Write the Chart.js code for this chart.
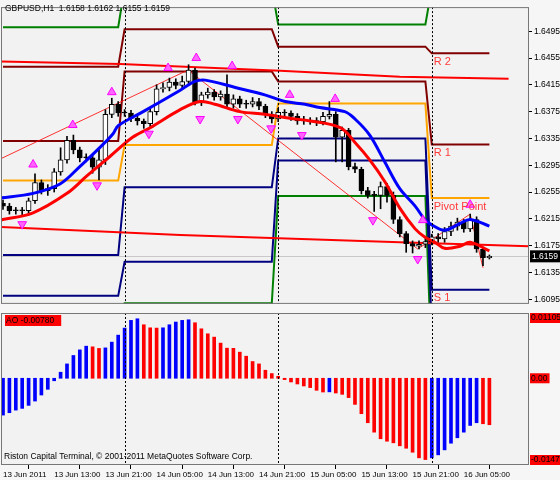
<!DOCTYPE html>
<html>
<head>
<meta charset="utf-8">
<script src="https://cdn.jsdelivr.net/npm/chart.js@4.4.1/dist/chart.umd.min.js"></script>
<style>
  body { margin: 0; background: #f6f6f6; }
  #wrap { position: relative; width: 560px; height: 480px; }
  canvas { position: absolute; left: 0; }
</style>
</head>
<body>
<div id="wrap">
  <canvas id="price" width="560" height="311" style="top:0"></canvas>
  <canvas id="ao" width="560" height="169" style="top:311px"></canvas>
</div>
<script>
// hourly bars, 13 Jun 2011 05:00 .. 16 Jun 2011 09:00
const closes = [1.6234,1.6227,1.6227,1.6227,1.6242,1.6269,1.6257,1.6260,1.6285,1.6303,
  1.6332,1.6318,1.6306,1.6306,1.6292,1.6303,1.6371,1.6386,1.6373,1.6373,
  1.6365,1.6361,1.6357,1.6375,1.6409,1.6411,1.6419,1.6414,1.6420,1.6437,
  1.6390,1.6400,1.6404,1.6397,1.6401,1.6386,1.6394,1.6386,1.6386,1.6390,
  1.6383,1.6371,1.6364,1.6374,1.6373,1.6368,1.6361,1.6362,1.6361,1.6360,
  1.6368,1.6371,1.6337,1.6347,1.6293,1.6289,1.6257,1.6250,1.6250,1.6263,
  1.6250,1.6214,1.6193,1.6178,1.6174,1.6177,1.6181,1.6188,1.6185,1.6196,
  1.6204,1.6210,1.6200,1.6214,1.6170,1.6157,1.6159];
const firstOpen = 1.6238;
const highs = [1.6243,1.6238,1.6232,1.6232,1.6246,1.6282,1.6273,1.6266,1.6290,1.6321,
  1.6338,1.6340,1.6322,1.6312,1.6310,1.6318,1.6378,1.6395,1.6390,1.6378,
  1.6377,1.6368,1.6364,1.6380,1.6415,1.6418,1.6425,1.6424,1.6428,1.6445,
  1.6440,1.6404,1.6410,1.6408,1.6406,1.6430,1.6400,1.6398,1.6392,1.6396,
  1.6395,1.6386,1.6375,1.6380,1.6378,1.6376,1.6372,1.6368,1.6366,1.6366,
  1.6374,1.6390,1.6375,1.6352,1.6350,1.6298,1.6292,1.6262,1.6256,1.6270,
  1.6268,1.6255,1.6218,1.6196,1.6182,1.6182,1.6186,1.6192,1.6193,1.6202,
  1.6210,1.6216,1.6214,1.6222,1.6218,1.6172,1.6161];
const lows = [1.6229,1.6222,1.6222,1.6221,1.6222,1.6238,1.6252,1.6250,1.6255,1.6280,
  1.6298,1.6312,1.6300,1.6300,1.6283,1.6273,1.6296,1.6366,1.6368,1.6368,
  1.6360,1.6355,1.6350,1.6352,1.6370,1.6404,1.6406,1.6409,1.6408,1.6415,
  1.6385,1.6384,1.6395,1.6392,1.6392,1.6381,1.6380,1.6381,1.6380,1.6382,
  1.6378,1.6366,1.6358,1.6360,1.6368,1.6362,1.6356,1.6356,1.6356,1.6354,
  1.6355,1.6364,1.6300,1.6300,1.6288,1.6284,1.6252,1.6246,1.6226,1.6230,
  1.6240,1.6208,1.6188,1.6165,1.6164,1.6170,1.6172,1.6176,1.6180,1.6180,
  1.6190,1.6198,1.6195,1.6196,1.6165,1.6145,1.6155];

// moving averages, read at sparse bars
const blueMaX = [-0.5,4.7,8.9,12,15.2,17.2,18,21.9,27.7,30,31.6,36.3,40.9,44.1,47.2,49.5,53.4,55,57.3,59.7,62,64.4,65.9,67,69,71.4,73,76];
const blueMaY = [1.6246,1.6253,1.6267,1.6293,1.6322,1.6342,1.6354,1.6375,1.6407,1.6420,1.6422,1.6411,1.6400,1.6390,1.6386,1.6381,1.6375,1.6364,1.6340,1.6299,1.6260,1.6234,1.6214,1.6206,1.6198,1.6208,1.6214,1.6204];
const redMaX = [-0.5,4.7,10,13.1,16.7,20.3,23,27.7,30.8,33.1,37,40.9,44.8,48,52.7,55,57.3,59.7,62,64.4,65.9,67.5,69,71.4,73,76];
const redMaY = [1.6213,1.6224,1.6253,1.6279,1.6308,1.6337,1.6351,1.6378,1.6390,1.6386,1.6375,1.6371,1.6365,1.6361,1.6351,1.6329,1.6303,1.6270,1.6231,1.6200,1.6188,1.6180,1.6171,1.6174,1.6180,1.6167];

// slow red lines
const slowAX = [-0.5,18.3,43.3,62,79];
const slowAY = [1.6450,1.6446,1.6436,1.6427,1.6424];
const slowBX = [-0.5,27.7,62,82.2];
const slowBY = [1.6203,1.6191,1.6180,1.6174];

// zigzag
const zigX = [-0.5,28.9,64.8,73,75];
const zigY = [1.6304,1.6437,1.6170,1.6222,1.6142];

// fractals
const fracUpX = [4.7,10.9,17,25.8,30.2,35.8,44.8,51.9,65.6,73];
const fracUpY = [1.6296,1.6355,1.6404,1.6440,1.6455,1.6443,1.6400,1.6394,1.6213,1.6236];
const fracDnX = [3,14.7,22.8,30.8,36.7,41.9,46.7,57.8,64.8];
const fracDnY = [1.6207,1.6265,1.6342,1.6364,1.6364,1.6350,1.6340,1.6213,1.6155];

// daily pivots (day start / end bars)
const dayStart = [0,19,43,67];
const dayEnd = [18,42,66,76];
const pivR3 = [1.6501,1.6560,1.6505,1.6560];
const pivR2 = [1.6442,1.6498,1.6472,1.6462];
const pivR1 = [1.6331,1.6435,1.6420,1.6326];
const pivPP = [1.6272,1.6325,1.6387,1.6246];
const pivS1 = [1.6161,1.6262,1.6335,1.6109];
const pivS2 = [1.6100,1.6151,1.6302,1.6050];
const pivS3 = [1.6040,1.6089,1.6249,1.5990];

// awesome oscillator
const aoValues = [-0.00664,-0.00621,-0.00574,-0.00543,-0.00489,-0.00411,-0.00302,-0.00199,-0.00045,0.00109,
  0.00259,0.00411,0.00512,0.00579,0.00567,0.00538,0.00548,0.00652,0.00778,0.00905,
  0.01044,0.01073,0.00965,0.00910,0.00905,0.00910,0.00965,0.01014,0.01044,0.01055,
  0.01001,0.00892,0.00802,0.00742,0.00634,0.00543,0.00540,0.00471,0.00398,0.00302,
  0.00259,0.00145,0.00085,0.00036,-0.00024,-0.00067,-0.00103,-0.00139,-0.00168,-0.00217,
  -0.00248,-0.00245,-0.00266,-0.00290,-0.00349,-0.00471,-0.00639,-0.00802,-0.00972,-0.01091,
  -0.01135,-0.01164,-0.01218,-0.01262,-0.01334,-0.01435,-0.01466,-0.01435,-0.01381,-0.01291,
  -0.01171,-0.01073,-0.00972,-0.00851,-0.00802,-0.00820,-0.00838];
const aoLabels = [0.01105, 0.00, -0.01474];

const priceTicks = [1.6095,1.6135,1.6175,1.6215,1.6255,1.6295,1.6335,1.6375,1.6415,1.6455,1.6495];
const dateTicks = [0,8,16,24,32,40,48,56,64,72];
const dateLabels = ["13 Jun 2011","13 Jun 13:00","13 Jun 21:00","14 Jun 05:00","14 Jun 13:00",
  "14 Jun 21:00","15 Jun 05:00","15 Jun 13:00","15 Jun 21:00","16 Jun 05:00"];
const daySeps = [19,43,67];
const lastPrice = 1.6159;

const FONT = "Liberation Sans";
const X_MIN = -0.3125, X_MAX = 82.19;
const pts = (xs, ys) => xs.map((x, i) => ({x: x, y: ys[i]}));
const opens = closes.map((c, i) => i === 0 ? firstOpen : closes[i - 1]);

function pivotLine(levels) {
  const out = [];
  levels.forEach((v, d) => { out.push({x: dayStart[d], y: v}); out.push({x: dayEnd[d], y: v}); });
  return out;
}
function line(data, color, width, order) {
  return { type: "line", data: data, borderColor: color, borderWidth: width,
    pointRadius: 0, tension: 0, order: order };
}

// shared drawing: plot background, frame, day separators
const panelPlugin = {
  id: "panel",
  beforeDraw(chart) {
    const a = chart.chartArea, ctx = chart.ctx;
    ctx.save();
    ctx.fillStyle = "#f2f2f2";
    ctx.fillRect(a.left, a.top, a.right - a.left, a.bottom - a.top);
    ctx.restore();
  },
  afterDraw(chart) {
    const a = chart.chartArea, ctx = chart.ctx, xs = chart.scales.x;
    ctx.save();
    ctx.strokeStyle = "#000";
    ctx.lineWidth = 1;
    ctx.setLineDash([2, 2]);
    daySeps.forEach(d => {
      const px = Math.round(xs.getPixelForValue(d)) + 0.5;
      ctx.beginPath(); ctx.moveTo(px, a.top); ctx.lineTo(px, a.bottom); ctx.stroke();
    });
    ctx.setLineDash([]);
    ctx.strokeStyle = "#777";
    ctx.strokeRect(a.left + 0.5, a.top + 0.5, a.right - a.left - 1, a.bottom - a.top - 1);
    ctx.restore();
  }
};

const priceExtras = {
  id: "priceExtras",
  beforeDatasetsDraw(chart) {
    const a = chart.chartArea, ctx = chart.ctx, ys = chart.scales.y;
    const py = Math.round(ys.getPixelForValue(lastPrice)) + 0.5;
    ctx.save();
    ctx.strokeStyle = "#c8c8c8";
    ctx.beginPath(); ctx.moveTo(a.left, py); ctx.lineTo(a.right, py); ctx.stroke();
    ctx.restore();
  },
  afterDraw(chart) {
    const a = chart.chartArea, ctx = chart.ctx, ys = chart.scales.y, xs = chart.scales.x;
    ctx.save();
    ctx.font = "8.5px " + FONT;
    ctx.fillStyle = "#000";
    ctx.textBaseline = "middle";
    ctx.fillText("GBPUSD,H1  1.6158 1.6162 1.6155 1.6159", 5, 9);
    const py = ys.getPixelForValue(lastPrice);
    ctx.fillRect(a.right + 1, py - 6, 30, 12);
    ctx.fillStyle = "#fff";
    ctx.fillText(lastPrice.toFixed(4), a.right + 3, py);
    ctx.font = "11px " + FONT;
    ctx.fillStyle = "#ff3b3b";
    ctx.textBaseline = "top";
    const lx = xs.getPixelForValue(dayStart[3]) + 2;
    [["R 2", pivR2[3]], ["R 1", pivR1[3]], ["Pivot Point", pivPP[3]], ["S 1", pivS1[3]]].forEach(([t, v]) => {
      ctx.fillText(t, lx, ys.getPixelForValue(v) + 3);
    });
    ctx.restore();
  }
};

const aoExtras = {
  id: "aoExtras",
  afterDraw(chart) {
    const a = chart.chartArea, ctx = chart.ctx, ys = chart.scales.y;
    ctx.save();
    ctx.font = "8.5px " + FONT;
    ctx.textBaseline = "middle";
    const aoText = "AO -0.00780";
    ctx.fillStyle = "#ff0000";
    ctx.fillRect(a.left + 4, a.top + 2, ctx.measureText(aoText).width + 8, 11);
    ctx.fillStyle = "#000";
    ctx.fillText(aoText, a.left + 5, a.top + 8);
    aoLabels.forEach(v => {
      const py = Math.min(Math.max(ys.getPixelForValue(v), a.top + 5), a.bottom - 5);
      const t = v === 0 ? "0.00" : v.toFixed(5);
      ctx.fillStyle = "#ff0000";
      ctx.fillRect(a.right + 1, py - 5, ctx.measureText(t).width + 3, 10);
      ctx.fillStyle = "#000";
      ctx.fillText(t, a.right + 2, py);
    });
    ctx.fillText("Riston Capital Terminal, \u00a9 2001-2011 MetaQuotes Software Corp.", a.left + 3, a.bottom - 8);
    ctx.restore();
  }
};

const fitY = axis => { axis.width = 31; };

new Chart(document.getElementById("price"), {
  data: {
    datasets: [
      line(pivotLine(pivR3), "#008000", 2, 20),
      line(pivotLine(pivR2), "#800000", 2, 20),
      line(pivotLine(pivR1), "#800000", 2, 20),
      line(pivotLine(pivPP), "#ffa500", 2, 20),
      line(pivotLine(pivS1), "#000080", 2, 20),
      line(pivotLine(pivS2), "#000080", 2, 20),
      line(pivotLine(pivS3), "#008000", 2, 20),
      line(pts(slowAX, slowAY), "#ff0000", 2, 15),
      line(pts(slowBX, slowBY), "#ff0000", 2, 15),
      line(pts(zigX, zigY), "rgba(255,0,0,0.8)", 1, 14),
      {
        type: "bar", order: 10, grouped: false, barThickness: 1,
        data: lows.map((l, i) => ({x: i, y: [l, highs[i]]})),
        backgroundColor: "#000", borderWidth: 0
      },
      {
        type: "bar", order: 9, grouped: false, barThickness: 5, minBarLength: 1,
        data: closes.map((c, i) => ({x: i, y: [opens[i], c]})),
        backgroundColor: closes.map((c, i) => c > opens[i] ? "#ffffff" : "#000000"),
        borderColor: "#000", borderWidth: 1, borderSkipped: false
      },
      Object.assign(line(pts(redMaX, redMaY), "#ff0000", 3, 5), {tension: 0.35}),
      Object.assign(line(pts(blueMaX, blueMaY), "#0000ff", 3, 4), {tension: 0.35}),
      {
        type: "scatter", order: 1, data: pts(fracUpX, fracUpY),
        pointStyle: "triangle", pointRadius: 5, pointBackgroundColor: "#ff66ff",
        pointBorderColor: "#ff00ff", pointBorderWidth: 1
      },
      {
        type: "scatter", order: 1, data: pts(fracDnX, fracDnY),
        pointStyle: "triangle", pointRotation: 180, pointRadius: 5, pointBackgroundColor: "#ff66ff",
        pointBorderColor: "#ff00ff", pointBorderWidth: 1
      }
    ]
  },
  options: {
    responsive: false, animation: false, events: [],
    layout: { padding: { top: 2, left: 1, right: 0, bottom: 1 }, autoPadding: false },
    plugins: { legend: { display: false }, tooltip: { enabled: false } },
    scales: {
      x: { type: "linear", min: X_MIN, max: X_MAX, offset: false, display: false },
      y: {
        position: "right", min: 1.6088, max: 1.6531, afterFit: fitY,
        afterBuildTicks: axis => { axis.ticks = priceTicks.map(v => ({value: v})); },
        grid: { drawOnChartArea: false, tickLength: 3, color: "#000" },
        border: { display: false },
        ticks: { padding: 2, color: "#000", font: { family: FONT, size: 8.5 },
          callback: v => v.toFixed(4) }
      }
    }
  },
  plugins: [panelPlugin, priceExtras]
});

new Chart(document.getElementById("ao"), {
  type: "bar",
  data: {
    datasets: [{
      data: aoValues.map((v, i) => ({x: i, y: v})),
      backgroundColor: aoValues.map((v, i) => i === 0 || v > aoValues[i - 1] ? "#0000ff" : "#ff0000"),
      barThickness: 3, borderWidth: 0
    }]
  },
  options: {
    responsive: false, animation: false, events: [],
    layout: { padding: { top: 2, left: 1, right: 0, bottom: 0 }, autoPadding: false },
    plugins: { legend: { display: false }, tooltip: { enabled: false } },
    scales: {
      x: {
        type: "linear", min: X_MIN, max: X_MAX, offset: false,
        afterFit: axis => { axis.height = 15; axis.paddingLeft = 0; axis.paddingRight = 0; },
        afterBuildTicks: axis => { axis.ticks = dateTicks.map(v => ({value: v})); },
        grid: { drawOnChartArea: false, tickLength: 4, color: "#000" },
        border: { display: false },
        ticks: { align: "start", padding: 1, maxRotation: 0, autoSkip: false, color: "#000",
          font: { family: FONT, size: 8 },
          callback: v => dateLabels[dateTicks.indexOf(v)] }
      },
      y: {
        position: "right", min: -0.01564, max: 0.01177, afterFit: fitY,
        grid: { display: false }, border: { display: false }, ticks: { display: false }
      }
    }
  },
  plugins: [panelPlugin, aoExtras]
});
</script>
</body>
</html>
